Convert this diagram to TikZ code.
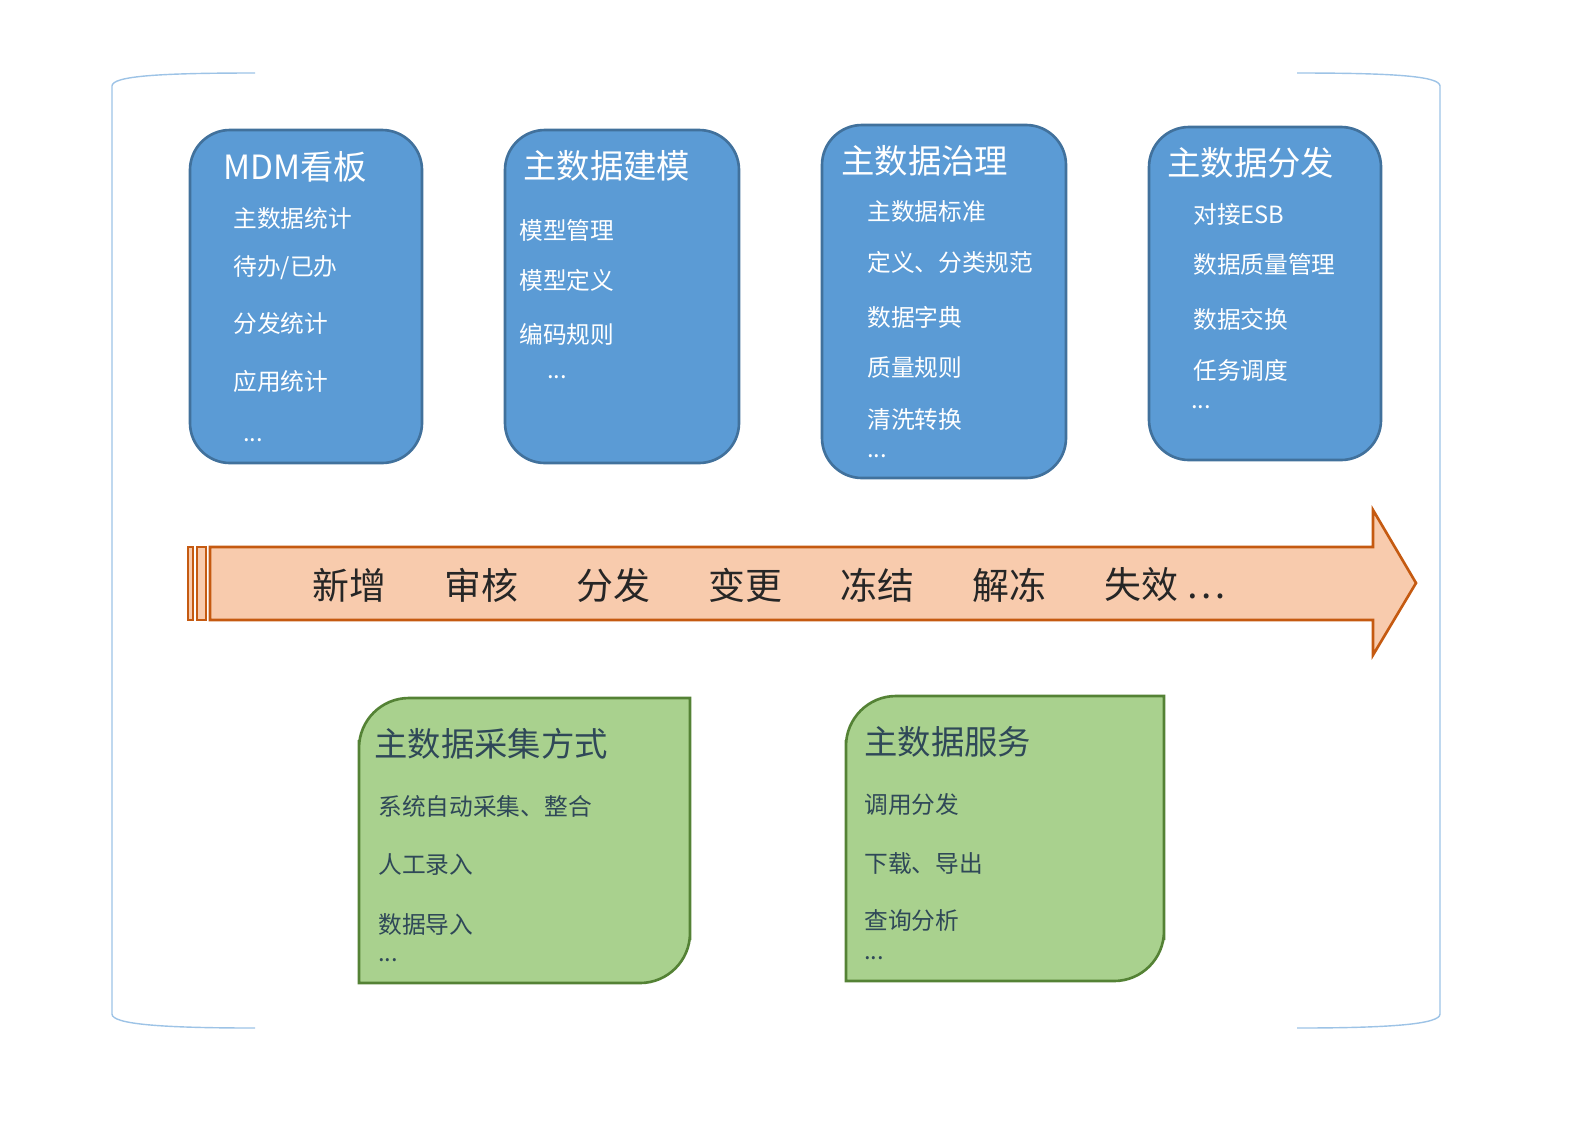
\documentclass[tikz,border=0pt]{standalone}
\usepackage{fontspec}
\newfontfamily\cjk{Noto Sans CJK SC}
\usetikzlibrary{positioning}
\definecolor{boxblue}{HTML}{5B9BD5}
\definecolor{lineblue}{HTML}{41719C}
\definecolor{arrowfill}{HTML}{F8CBAD}
\definecolor{arrowline}{HTML}{C55A11}
\definecolor{boxgreen}{HTML}{A9D18E}
\definecolor{linegreen}{HTML}{548235}
\definecolor{greentext}{HTML}{2F4858}
\definecolor{frameblue}{HTML}{9DC3E6}
\tikzset{
  bluebox/.style={draw=lineblue,fill=boxblue,line width=1.5pt,rounded corners=0.8cm},
  greenbox/.style={draw=linegreen,fill=boxgreen,line width=1.5pt},
  btitle/.style={anchor=west,text=white,font=\cjk\fontsize{19}{19}\selectfont,inner sep=0pt},
  bitem/.style={anchor=west,text=white,font=\cjk\fontsize{13.5}{13.5}\selectfont,inner sep=0pt},
  gtitle/.style={anchor=west,text=greentext,font=\cjk\fontsize{19}{19}\selectfont,inner sep=0pt},
  gitem/.style={anchor=west,text=greentext,font=\cjk\fontsize{13.5}{13.5}\selectfont,inner sep=0pt},
  stage/.style={text=black!85,font=\cjk\fontsize{21}{21}\selectfont,inner sep=0pt},
}
\begin{document}
\begin{tikzpicture}[x=0.02cm,y=-0.02cm]
\useasboundingbox (0,0) rectangle (1591,1130);
% Frame
\draw[frameblue,line width=0.8pt] (255,73) .. controls (160,73) and (112,76) .. (112,86) -- (112,1014) .. controls (112,1024) and (160,1028) .. (255,1028);
\draw[frameblue,line width=0.8pt] (1297,73) .. controls (1392,73) and (1440,76) .. (1440,86) -- (1440,1014) .. controls (1440,1024) and (1392,1028) .. (1297,1028);

% Blue boxes
\draw[bluebox] (190,130) rectangle (422,463);
\node[btitle] (t1) at (223,167) {MDM看板};
\node[bitem] (a1) at (233,218) {主数据统计};
\node[bitem] (a2) at (233,268) {待办/已办};
\node[bitem] (a3) at (233,323) {分发统计};
\node[bitem] (a4) at (233,381) {应用统计};
\node[bitem] (a5) at (243,440) {...};

\draw[bluebox] (505,130) rectangle (739,463);
\node[btitle] (t2) at (523,166) {主数据建模};
\node[bitem] (b1) at (519,230) {模型管理};
\node[bitem] (b2) at (519,280) {模型定义};
\node[bitem] (b3) at (519,334) {编码规则};
\node[bitem] (b4) at (547,377) {...};

\draw[bluebox] (822,125) rectangle (1066,478);
\node[btitle] (t3) at (841,161) {主数据治理};
\node[bitem] (c1) at (867,212) {主数据标准};
\node[bitem] (c2) at (867,262) {定义、分类规范};
\node[bitem] (c3) at (867,317) {数据字典};
\node[bitem] (c4) at (867,368) {质量规则};
\node[bitem] (c5) at (867,419) {清洗转换};
\node[bitem] (c6) at (867,456) {...};

\draw[bluebox] (1149,127) rectangle (1381,460);
\node[btitle] (t4) at (1167,163) {主数据分发};
\node[bitem] (d1) at (1193,215) {对接ESB};
\node[bitem] (d2) at (1193,264) {数据质量管理};
\node[bitem] (d3) at (1193,319) {数据交换};
\node[bitem] (d4) at (1193,370) {任务调度};
\node[bitem] (d5) at (1191,407) {...};

% Lifecycle arrow
\draw[draw=arrowline,fill=arrowfill,line width=1.5pt] (210,547) -- (1373,547) -- (1373,510) -- (1416,583) -- (1373,655) -- (1373,620) -- (210,620) -- cycle;
\draw[draw=arrowline,fill=arrowfill,line width=1.2pt] (197,547) rectangle (206,620);
\draw[draw=arrowline,fill=arrowfill,line width=1.2pt] (188,547) rectangle (193,620);
\foreach \w [count=\i] in {新增,审核,分发,变更,冻结,解冻,{失效 \dots}}
  \node[stage,anchor=west] (s\i) at (180+132*\i,585) {\w};

% Green boxes
\draw[greenbox] (359,983) -- (359,740) [rounded corners=1cm] -- (359,698) [sharp corners] -- (690,698) -- (690,940) [rounded corners=1cm] -- (690,983) [sharp corners] -- cycle;
\node[gtitle] (g1) at (374,744) {主数据采集方式};
\node[gitem] (e1) at (378,806) {系统自动采集、整合};
\node[gitem] (e2) at (378,865) {人工录入};
\node[gitem] (e3) at (378,924) {数据导入};
\node[gitem] (e4) at (378,960) {...};

\draw[greenbox] (846,981) -- (846,740) [rounded corners=1cm] -- (846,696) [sharp corners] -- (1164,696) -- (1164,940) [rounded corners=1cm] -- (1164,981) [sharp corners] -- cycle;
\node[gtitle] (g2) at (864,742) {主数据服务};
\node[gitem] (f1) at (864,804) {调用分发};
\node[gitem] (f2) at (864,863) {下载、导出};
\node[gitem] (f3) at (864,921) {查询分析};
\node[gitem] (f4) at (864,958) {...};
\end{tikzpicture}
\end{document}
